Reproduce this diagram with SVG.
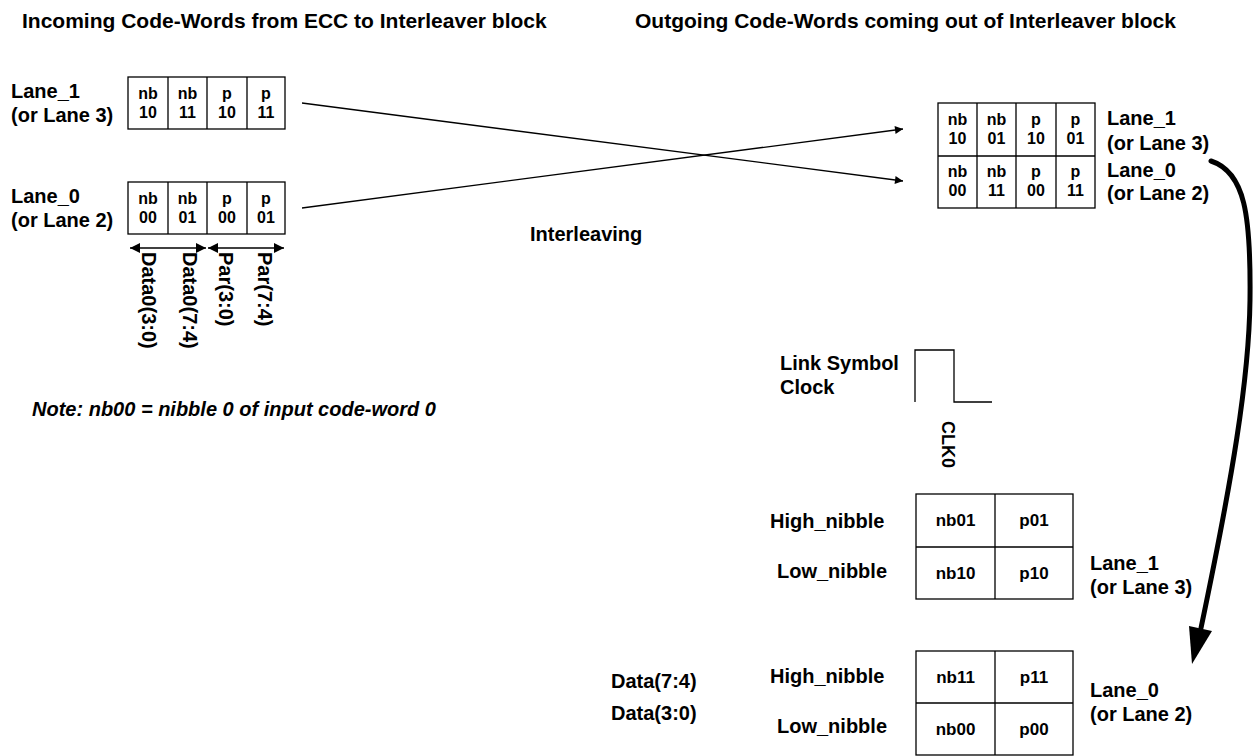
<svg xmlns="http://www.w3.org/2000/svg" width="1257" height="756" viewBox="0 0 1257 756">
<defs>
<style>
text{font-family:"Liberation Sans",Arial,sans-serif;font-weight:bold;fill:#000}
.t{font-size:21px}
.l{font-size:20px}
.c{font-size:16px;text-anchor:middle}
.d{font-size:17px;text-anchor:middle}
.box{fill:#fff;stroke:#000;stroke-width:1.3}
.ln{stroke:#000;stroke-width:1.3;fill:none}
</style>
<marker id="ah" viewBox="0 0 10 10" refX="10" refY="5" markerWidth="12" markerHeight="8" markerUnits="userSpaceOnUse" orient="auto-start-reverse">
<path d="M0,0 L10,5 L0,10 Z" fill="#000"/>
</marker>
<marker id="ah2" viewBox="0 0 10 10" refX="10" refY="5" markerWidth="15" markerHeight="10" markerUnits="userSpaceOnUse" orient="auto-start-reverse">
<path d="M0,0 L10,5 L0,10 Z" fill="#000"/>
</marker>
</defs>
<rect width="1257" height="756" fill="#fff"/>

<g id="titles">
<text class="t" x="22" y="28">Incoming Code-Words from ECC to Interleaver block</text>
<text class="t" x="635" y="28">Outgoing Code-Words coming out of Interleaver block</text>
</g>

<g id="in-lane1">
<text class="l" x="11" y="98">Lane_1</text>
<text class="l" x="11" y="122">(or Lane 3)</text>
<rect class="box" x="128" y="77" width="157" height="52"/>
<path class="ln" d="M168,77V129M207,77V129M247,77V129"/>
<text class="c" x="148" y="99">nb</text><text class="c" x="148" y="118">10</text>
<text class="c" x="187.5" y="99">nb</text><text class="c" x="187.5" y="118">11</text>
<text class="c" x="227" y="99">p</text><text class="c" x="227" y="118">10</text>
<text class="c" x="266" y="99">p</text><text class="c" x="266" y="118">11</text>
</g>

<g id="in-lane0">
<text class="l" x="11" y="203">Lane_0</text>
<text class="l" x="11" y="227">(or Lane 2)</text>
<rect class="box" x="128" y="182" width="157" height="52"/>
<path class="ln" d="M168,182V234M207,182V234M247,182V234"/>
<text class="c" x="148" y="204">nb</text><text class="c" x="148" y="223">00</text>
<text class="c" x="187.5" y="204">nb</text><text class="c" x="187.5" y="223">01</text>
<text class="c" x="227" y="204">p</text><text class="c" x="227" y="223">00</text>
<text class="c" x="266" y="204">p</text><text class="c" x="266" y="223">01</text>
</g>

<g id="byte-labels">
<text class="l" transform="translate(142,252) rotate(90)">Data0(3:0)</text>
<text class="l" transform="translate(183,252) rotate(90)">Data0(7:4)</text>
<text class="l" transform="translate(219,252) rotate(90)">Par(3:0)</text>
<text class="l" transform="translate(258,252) rotate(90)">Par(7:4)</text>
</g>

<g id="out-lanes">
<rect class="box" x="938" y="103" width="157" height="105"/>
<path class="ln" d="M977,103V208M1016,103V208M1056,103V208M938,156H1095"/>
<text class="c" x="957.5" y="125">nb</text><text class="c" x="957.5" y="144">10</text>
<text class="c" x="996.5" y="125">nb</text><text class="c" x="996.5" y="144">01</text>
<text class="c" x="1036" y="125">p</text><text class="c" x="1036" y="144">10</text>
<text class="c" x="1075.5" y="125">p</text><text class="c" x="1075.5" y="144">01</text>
<text class="c" x="957.5" y="177">nb</text><text class="c" x="957.5" y="196">00</text>
<text class="c" x="996.5" y="177">nb</text><text class="c" x="996.5" y="196">11</text>
<text class="c" x="1036" y="177">p</text><text class="c" x="1036" y="196">00</text>
<text class="c" x="1075.5" y="177">p</text><text class="c" x="1075.5" y="196">11</text>
<text class="l" x="1107" y="125">Lane_1</text>
<text class="l" x="1107" y="150">(or Lane 3)</text>
<text class="l" x="1107" y="177">Lane_0</text>
<text class="l" x="1107" y="200">(or Lane 2)</text>
</g>

<g id="interleaving-label">
<text class="l" x="530" y="241">Interleaving</text>
</g>

<g id="note">
<text class="l" x="32" y="416" font-style="italic">Note: nb00 = nibble 0 of input code-word 0</text>
</g>

<g id="clock">
<text class="l" x="780" y="370">Link Symbol</text>
<text class="l" x="780" y="394">Clock</text>
<path class="ln" d="M915,402V350H954V402H992"/>
<text class="l" font-size="18" style="font-size:18px" transform="translate(942,421) rotate(90)">CLK0</text>
</g>

<g id="out-lane1-nibbles">
<text class="l" x="770" y="528">High_nibble</text>
<text class="l" x="777" y="578">Low_nibble</text>
<rect class="box" x="916" y="494" width="157" height="105"/>
<path class="ln" d="M995,494V599M916,547H1073"/>
<text class="d" x="955.5" y="526">nb01</text>
<text class="d" x="1034" y="526">p01</text>
<text class="d" x="955.5" y="579">nb10</text>
<text class="d" x="1034" y="579">p10</text>
<text class="l" x="1090" y="570">Lane_1</text>
<text class="l" x="1090" y="594">(or Lane 3)</text>
</g>

<g id="out-lane0-nibbles">
<text class="l" x="611" y="688">Data(7:4)</text>
<text class="l" x="611" y="720">Data(3:0)</text>
<text class="l" x="770" y="683">High_nibble</text>
<text class="l" x="777" y="733">Low_nibble</text>
<rect class="box" x="916" y="651" width="157" height="104"/>
<path class="ln" d="M995,651V755M916,703H1073"/>
<text class="d" x="955.5" y="683">nb11</text>
<text class="d" x="1034" y="683">p11</text>
<text class="d" x="955.5" y="735">nb00</text>
<text class="d" x="1034" y="735">p00</text>
<text class="l" x="1090" y="697">Lane_0</text>
<text class="l" x="1090" y="721">(or Lane 2)</text>
</g>

<g id="connectors">
<line class="ln" x1="302" y1="103" x2="903" y2="181" marker-end="url(#ah)"/>
<line class="ln" x1="302" y1="208" x2="903" y2="129" marker-end="url(#ah)"/>
<line class="ln" x1="130" y1="248" x2="206" y2="248" marker-start="url(#ah2)" marker-end="url(#ah2)"/>
<line class="ln" x1="208" y1="248" x2="284" y2="248" marker-start="url(#ah2)" marker-end="url(#ah2)"/>
<path d="M1211,161 C1245,172 1251,215 1250,300 C1249,380 1232,480 1201,628" fill="none" stroke="#000" stroke-width="5" stroke-linecap="round"/>
<path d="M1189,626 L1212,631 L1192,664 Z" fill="#000"/>
</g>
</svg>
